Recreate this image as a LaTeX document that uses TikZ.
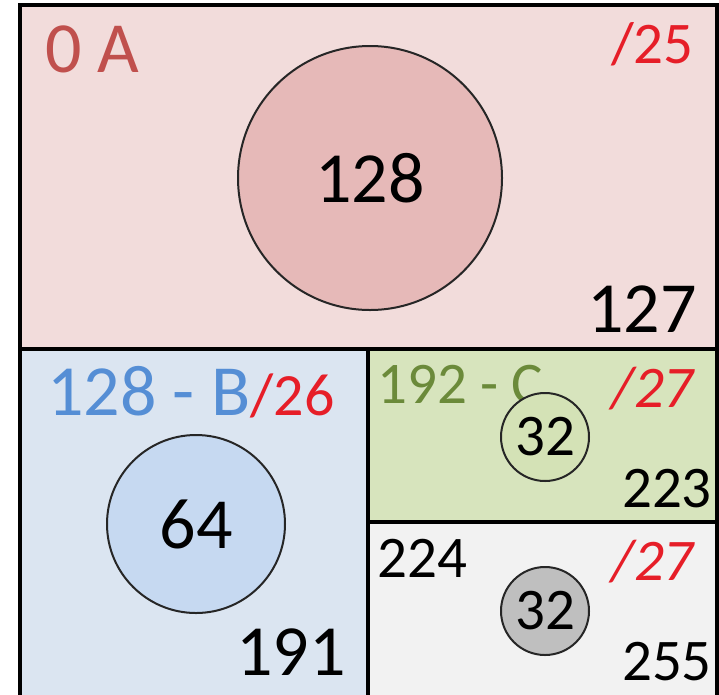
\documentclass[tikz,border=0pt]{standalone}
\usepackage{fontspec}
\setmainfont{Carlito}
\usetikzlibrary{positioning}

\definecolor{netAfill}{HTML}{F2DCDB}
\definecolor{hostAfill}{HTML}{E6B9B8}
\definecolor{netAtext}{HTML}{C0504D}
\definecolor{netBfill}{HTML}{DBE5F1}
\definecolor{hostBfill}{HTML}{C6D9F1}
\definecolor{netBtext}{HTML}{558ED5}
\definecolor{netCfill}{HTML}{D7E4BD}
\definecolor{hostCfill}{HTML}{D4E2B6}
\definecolor{netCtext}{HTML}{6B8A3A}
\definecolor{netDfill}{HTML}{F2F2F2}
\definecolor{hostDfill}{HTML}{BFBFBF}
\definecolor{maskred}{HTML}{E61E28}

\begin{document}
\begin{tikzpicture}[x=1pt, y=-1pt,
    bignum/.style={font=\fontsize{72}{80}\selectfont, inner sep=0pt},
    smallnum/.style={font=\fontsize{59}{66}\selectfont, inner sep=0pt},
    masknum/.style={font=\fontsize{59}{66}\selectfont\itshape, text=maskred, inner sep=0pt, anchor=base east},
    hosts/.style={circle, draw=black!85, line width=2pt, inner sep=0pt}]
    \useasboundingbox (0,0) rectangle (719,694);

    % Subnet fills
    \fill[netAfill] (20,5) rectangle (717,349);
    \fill[netBfill] (20,349) rectangle (368,700);
    \fill[netCfill] (368,349) rectangle (717,522);
    \fill[netDfill] (368,522) rectangle (717,700);

    % Subnet borders
    \draw[line width=3.5pt] (20,5) rectangle (717,700);
    \draw[line width=3.5pt] (20,349) -- (717,349);
    \draw[line width=3.5pt] (368,349) -- (368,700);
    \draw[line width=3.5pt] (368,522) -- (717,522);

    % Subnet A (/25)
    \node[bignum, text=netAtext, anchor=base west] (labelA) at (45,72) {0 A};
    \node[smallnum, text=maskred, anchor=base east] (maskA) at (694,63) {/25};
    \node[hosts, fill=hostAfill, minimum size=264pt, bignum] (hostsA) at (370,178) {128};
    \node[bignum, anchor=base east] (lastA) at (697,332) {127};

    % Subnet B (/26)
    \node[bignum, text=netBtext, anchor=base west] (labelB) at (47,415)
        {128 - B\textcolor{maskred}{\fontsize{60}{66}\selectfont/26}};
    \node[hosts, fill=hostBfill, minimum size=178pt, bignum] (hostsB) at (196,524) {64};
    \node[bignum, anchor=base east] (lastB) at (346,675) {191};

    % Subnet C (/27)
    \node[smallnum, text=netCtext, anchor=base west] (labelC) at (377,403) {192 - C};
    \node[masknum] (maskC) at (694,407) {/27};
    \node[hosts, fill=hostCfill, minimum size=88pt, smallnum] (hostsC) at (545,437) {32};
    \node[smallnum, anchor=base east] (lastC) at (712,507) {223};

    % Last /27, no letter
    \node[smallnum, anchor=base west] (firstD) at (377,577) {224};
    \node[masknum] (maskD) at (694,580) {/27};
    \node[hosts, fill=hostDfill, minimum size=88pt, smallnum] (hostsD) at (545,611) {32};
    \node[smallnum, anchor=base east] (lastD) at (712,680) {255};
\end{tikzpicture}
\end{document}
